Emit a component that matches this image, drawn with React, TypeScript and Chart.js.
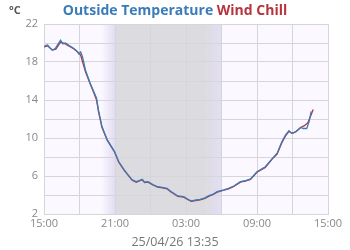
import React, { useEffect, useRef } from "react";
import { Chart, registerables } from "chart.js";

Chart.register(...registerables);

// hours since 15:00 on the first day
const tempHours = [0, 0.13, 0.3, 0.5, 0.7, 0.95, 1.2, 1.4, 1.6, 1.8, 2.1, 2.5, 2.75, 2.95, 3.1, 3.25, 3.5, 3.9, 4.2, 4.44, 4.6, 4.9, 5.35, 5.95, 6.32, 6.75, 7.0, 7.45, 7.8, 8.1, 8.3, 8.5, 8.8, 9.2, 9.6, 10.0, 10.4, 10.7, 11.0, 11.3, 11.8, 12.1, 12.44, 12.8, 13.2, 13.6, 13.9, 14.3, 14.64, 15.2, 15.6, 16.04, 16.6, 17.0, 17.45, 18.0, 18.7, 19.3, 19.7, 20.1, 20.4, 20.7, 20.85, 21.0, 21.3, 21.7, 21.9, 22.2, 22.4, 22.58];
const tempValues = [19.6, 19.72, 19.8, 19.5, 19.26, 19.4, 19.9, 20.3, 19.9, 20.0, 19.75, 19.44, 19.2, 18.84, 19.05, 18.56, 17.16, 15.76, 14.9, 14.2, 12.95, 11.2, 9.8, 8.6, 7.5, 6.7, 6.28, 5.6, 5.4, 5.55, 5.65, 5.35, 5.4, 5.1, 4.87, 4.8, 4.7, 4.4, 4.15, 3.9, 3.83, 3.6, 3.37, 3.45, 3.55, 3.7, 3.9, 4.1, 4.35, 4.53, 4.7, 4.95, 5.4, 5.5, 5.7, 6.45, 6.98, 7.86, 8.4, 9.6, 10.3, 10.77, 10.55, 10.5, 10.66, 11.13, 11.0, 11.0, 11.7, 12.8];

const chillHours = [0, 0.3, 0.7, 1.0, 1.4, 1.8, 2.5, 2.9, 3.1, 3.5, 3.9, 4.2, 4.44, 4.6, 4.9, 5.35, 5.95, 6.32, 6.75, 7.0, 7.45, 7.8, 8.1, 8.3, 8.5, 8.8, 9.2, 9.6, 10.0, 10.4, 10.7, 11.0, 11.3, 11.8, 12.1, 12.44, 12.8, 13.2, 13.6, 13.9, 14.3, 14.64, 15.2, 15.6, 16.04, 16.6, 17.0, 17.45, 18.0, 18.7, 19.3, 19.7, 20.1, 20.4, 20.7, 21.0, 21.3, 21.7, 22.0, 22.3, 22.75];
const chillValues = [19.6, 19.7, 19.25, 19.35, 20.1, 19.9, 19.4, 19.0, 18.7, 17.0, 15.7, 14.8, 14.0, 12.8, 11.1, 9.75, 8.55, 7.45, 6.65, 6.25, 5.55, 5.35, 5.5, 5.6, 5.3, 5.35, 5.05, 4.82, 4.75, 4.65, 4.35, 4.1, 3.85, 3.78, 3.55, 3.33, 3.42, 3.5, 3.65, 3.85, 4.05, 4.3, 4.5, 4.65, 4.9, 5.35, 5.45, 5.65, 6.4, 6.9, 7.8, 8.3, 9.5, 10.2, 10.7, 10.5, 10.7, 11.1, 11.3, 11.6, 13.0];

const xTickLabels = ["15:00", "18:00", "21:00", "00:00", "03:00", "06:00", "09:00", "12:00", "15:00"];
const yMin = 2;
const yMax = 22;
// night band (hours since 15:00)
const duskStart = 4.8;
const nightStart = 6.0;
const dawnStart = 13.7;
const nightEnd = 15.0;

const TEMP_COLOR = "#3a7bb8";
const CHILL_COLOR = "#b8333b";

const bgPlugin = {
  id: "bgPlugin",
  beforeDraw(chart: any) {
    const { ctx, chartArea, scales } = chart;
    const { left, right, top, bottom } = chartArea;
    ctx.save();
    ctx.fillStyle = "#fbf9ff";
    ctx.fillRect(left, top, right - left, bottom - top);
    const xs = scales.x;
    const a = xs.getPixelForValue(duskStart);
    const b = xs.getPixelForValue(nightStart);
    const c = xs.getPixelForValue(dawnStart);
    const d = xs.getPixelForValue(nightEnd);
    const g1 = ctx.createLinearGradient(a, 0, b, 0);
    g1.addColorStop(0, "rgba(228,222,245,0)");
    g1.addColorStop(1, "#e2dcf2");
    ctx.fillStyle = g1;
    ctx.fillRect(a, top, b - a, bottom - top);
    ctx.fillStyle = "#dcdce0";
    ctx.fillRect(b, top, c - b, bottom - top);
    const g2 = ctx.createLinearGradient(c, 0, d, 0);
    g2.addColorStop(0, "#dcdce0");
    g2.addColorStop(1, "#e4def4");
    ctx.fillStyle = g2;
    ctx.fillRect(c, top, d - c, bottom - top);
    ctx.restore();
  },
};

export default function App() {
  const ref = useRef<HTMLCanvasElement>(null);
  useEffect(() => {
    document.body.style.margin = "0";
    const chart = new Chart(ref.current!, {
      type: "line",
      data: {
        datasets: [
          {
            label: "Outside Temperature",
            data: tempHours.map((h, i) => ({ x: h, y: tempValues[i] })),
            borderColor: TEMP_COLOR,
            borderWidth: 1.3,
            pointRadius: 0,
            tension: 0,
            fill: false,
          },
          {
            label: "Wind Chill",
            data: chillHours.map((h, i) => ({ x: h, y: chillValues[i] })),
            borderColor: CHILL_COLOR,
            borderWidth: 1.3,
            pointRadius: 0,
            tension: 0,
            fill: false,
          },
        ],
      },
      options: {
        animation: false,
        responsive: false,
        layout: { padding: { top: 24, right: 22, left: 0, bottom: 0 } },
        plugins: { legend: { display: false }, title: { display: false }, tooltip: { enabled: false } },
        scales: {
          x: {
            type: "linear",
            min: 0,
            max: 24,
            afterFit: (s: any) => { s.height = 36; },
            ticks: {
              stepSize: 3,
              autoSkip: false,
              maxRotation: 0,
              padding: 3,
              color: "#888",
              font: { family: "'Open Sans'", size: 11 },
              callback: (v: any) => {
                const i = Math.round(Number(v) / 3);
                return i % 2 === 0 ? xTickLabels[i] : "";
              },
            },
            grid: { color: "#d6d6da", lineWidth: 1, drawTicks: false },
            border: { color: "#d6d6da" },
          },
          y: {
            min: yMin,
            max: yMax,
            afterFit: (s: any) => { s.width = 44; },
            ticks: {
              stepSize: 2,
              padding: 6,
              color: "#888",
              font: { family: "'Open Sans'", size: 11 },
              callback: (v: any) => ((Number(v) - 2) % 4 === 0 ? String(v) : ""),
            },
            grid: { color: "#d6d6da", lineWidth: 1, drawTicks: false },
            border: { color: "#d6d6da" },
          },
        },
      },
      plugins: [bgPlugin],
    });
    return () => chart.destroy();
  }, []);

  return (
    <div style={{ position: "relative", width: 350, height: 250, fontFamily: "'Open Sans', sans-serif" }}>
      <canvas ref={ref} width={350} height={250} style={{ position: "absolute", left: 0, top: 0 }} />
      <div style={{ position: "absolute", left: 9, top: 2, fontSize: 11, fontWeight: 700, color: "#555" }}>°C</div>
      <div style={{ position: "absolute", left: 0, width: 350, top: 0, textAlign: "center", fontSize: 14, fontWeight: 700, whiteSpace: "nowrap" }}>
        <span style={{ color: TEMP_COLOR }}>Outside Temperature</span>{" "}
        <span style={{ color: CHILL_COLOR }}>Wind Chill</span>
      </div>
      <div style={{ position: "absolute", left: 0, width: 350, top: 233, textAlign: "center", fontSize: 12.5, color: "#777" }}>25/04/26 13:35</div>
    </div>
  );
}
